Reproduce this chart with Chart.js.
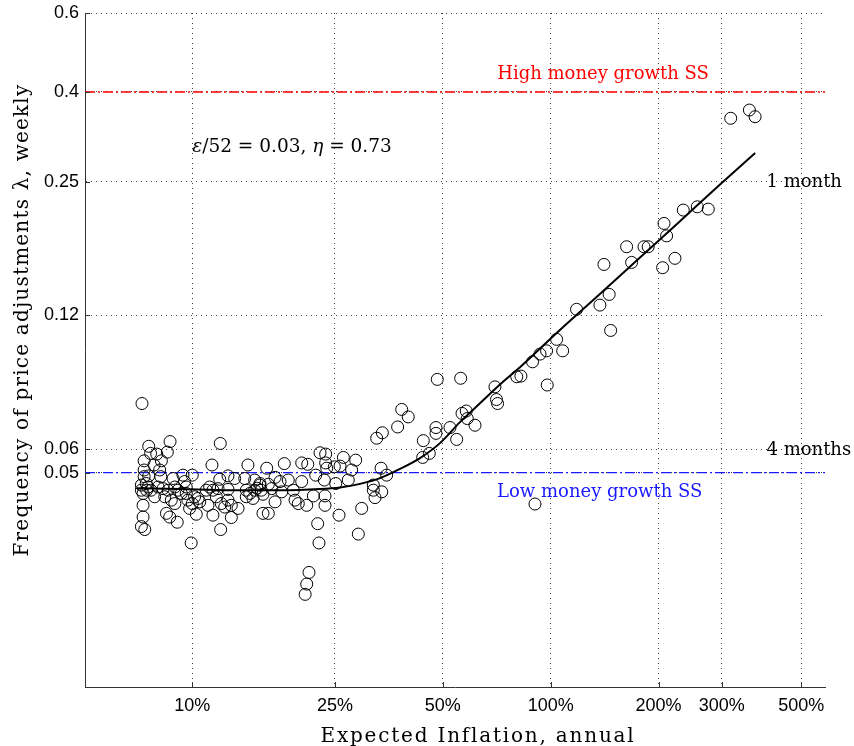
<!DOCTYPE html>
<html>
<head>
<meta charset="utf-8">
<script src="https://cdn.jsdelivr.net/npm/chart.js@4.4.1/dist/chart.umd.min.js"></script>
<style>
  html, body { margin: 0; padding: 0; background: #fff; }
  #wrap { width: 854px; height: 746px; }
</style>
</head>
<body>
<div id="wrap"><canvas id="chart" width="854" height="746"></canvas></div>
<script>
// Waarden (inflatie als fractie per jaar, frequentie per week)
const inflation = [
  0.0724, 0.0756, 0.0867, 0.1197, 0.0852, 0.0765, 0.0796, 0.0734, 0.0820, 0.0782,
  0.1135, 0.1430, 0.0734, 0.0811, 0.0756, 0.0817, 0.0884, 0.0942, 0.1000, 0.1193,
  0.1258, 0.1313, 0.1401, 0.1493, 0.0721, 0.0721, 0.0752, 0.0829, 0.0894, 0.0962,
  0.1118, 0.1180, 0.1258, 0.1415, 0.1493, 0.1558, 0.0729, 0.0785, 0.0838, 0.0874,
  0.0932, 0.0972, 0.1000, 0.1038, 0.1106, 0.1167, 0.1232, 0.1285, 0.1342, 0.1415,
  0.1477, 0.0729, 0.0847, 0.0865, 0.1026, 0.1142, 0.1285, 0.0729, 0.0908, 0.0721,
  0.0737, 0.1200, 0.0993, 0.1575, 0.0744, 0.0767, 0.0803, 0.0856, 0.0912, 0.0952,
  0.0962, 0.1015, 0.1049, 0.0983, 0.1094, 0.1142, 0.1205, 0.1258, 0.1447, 0.1543,
  0.0734, 0.0746, 0.0894, 0.3741, 0.3391, 0.3270, 0.2272, 0.2356, 0.2640, 0.2857,
  0.1613, 0.1806, 0.2020, 0.2100, 0.2356, 0.2372, 0.2491, 0.2584, 0.2784, 0.3363,
  0.3486, 0.1702, 0.2210, 0.2336, 0.2724, 0.1853, 0.2020, 0.2513, 0.3200, 0.1545,
  0.1630, 0.1757, 0.1515, 0.1575, 0.1666, 0.1776, 0.1914, 0.3200, 0.3378, 0.3235,
  0.2177, 0.2346, 0.1702, 0.1935, 0.1976, 0.2086, 0.2346, 0.1630, 0.2567, 0.2970,
  0.2238, 0.2906, 0.2257, 0.2117, 0.2086, 0.2065, 1.181, 1.039, 1.080, 0.974,
  0.934, 0.890, 0.978, 0.804, 0.826, 0.4826, 0.5609, 0.699, 0.706, 0.711,
  0.3840, 0.4005, 0.5813, 0.5657, 0.5852, 0.615, 0.4786, 0.4786, 0.5236, 0.5466,
  0.4412, 0.4585, 0.4395, 0.904, 3.179, 3.584, 3.718, 2.344, 2.565, 2.752,
  2.071, 2.106, 1.629, 1.821, 1.871, 1.682, 2.222, 2.053, 1.408, 1.456,
  1.372, 1.470
];
const frequency = [
  0.0736, 0.0585, 0.0600, 0.0594, 0.0567, 0.0563, 0.0561, 0.0541, 0.0541, 0.0529,
  0.0529, 0.0529, 0.0515, 0.0515, 0.0499, 0.0497, 0.0492, 0.0501, 0.0501, 0.0490,
  0.0499, 0.0492, 0.0492, 0.0488, 0.0475, 0.0462, 0.0470, 0.0466, 0.0470, 0.0470,
  0.0470, 0.0466, 0.0464, 0.0462, 0.0462, 0.0462, 0.0454, 0.0446, 0.0446, 0.0438,
  0.0454, 0.0438, 0.0430, 0.0442, 0.0426, 0.0446, 0.0422, 0.0426, 0.0419, 0.0446,
  0.0442, 0.0426, 0.0408, 0.0400, 0.0406, 0.0404, 0.0399, 0.0400, 0.0389, 0.0380,
  0.0374, 0.0374, 0.0348, 0.0408, 0.0479, 0.0462, 0.0470, 0.0462, 0.0462, 0.0484,
  0.0454, 0.0446, 0.0434, 0.0419, 0.0462, 0.0462, 0.0430, 0.0438, 0.0454, 0.0475,
  0.0497, 0.0462, 0.0430, 0.0649, 0.0629, 0.0611, 0.0565, 0.0561, 0.0551, 0.0543,
  0.0520, 0.0533, 0.0535, 0.0531, 0.0535, 0.0520, 0.0524, 0.0526, 0.0515, 0.0520,
  0.0501, 0.0495, 0.0501, 0.0488, 0.0488, 0.0488, 0.0484, 0.0479, 0.0475, 0.0479,
  0.0477, 0.0484, 0.0467, 0.0452, 0.0466, 0.0458, 0.0462, 0.0462, 0.0458, 0.0444,
  0.0448, 0.0448, 0.0434, 0.0438, 0.0430, 0.0426, 0.0426, 0.0408, 0.0404, 0.0419,
  0.0386, 0.0365, 0.0348, 0.0297, 0.0279, 0.0264, 0.1221, 0.1039, 0.0977, 0.0977,
  0.0960, 0.0921, 0.0813, 0.0850, 0.0853, 0.0838, 0.0843, 0.0805, 0.0752, 0.0736,
  0.0713, 0.0685, 0.0707, 0.0698, 0.0679, 0.0655, 0.0647, 0.0627, 0.0647, 0.0607,
  0.0603, 0.0563, 0.0551, 0.0429, 0.3408, 0.3562, 0.3437, 0.2081, 0.2118, 0.2092,
  0.1937, 0.1812, 0.1709, 0.1709, 0.1709, 0.1571, 0.1606, 0.1527, 0.1554, 0.1323,
  0.1249, 0.1090
];

// Modelcurve
const fitInflation = [0.0701, 0.0924, 0.1274, 0.1757, 0.2272, 0.2584, 0.2938, 0.3341, 0.3798, 0.4319,
  0.4911, 0.5584, 0.635, 0.722, 0.821, 0.934, 1.061, 1.372, 1.775, 2.295, 2.968, 3.72];
const fitFrequency = [0.0467, 0.0465, 0.0462, 0.0462, 0.0465, 0.0469, 0.0478, 0.0493, 0.0518, 0.0549,
  0.0595, 0.0666, 0.0737, 0.0815, 0.0895, 0.0989, 0.1092, 0.1325, 0.1613, 0.1961, 0.2388, 0.2827];

// Steady states (hoog / laag)
const highSS = 0.3925;
const lowSS = 0.0508;

// Assen
const xMin = 0.0502, xMax = 5.826;
const yMin = 0.01605, yMax = 0.6;
const xTicks = [0.1, 0.25, 0.5, 1, 2, 3, 5];
const xTickLabels = ['10%', '25%', '50%', '100%', '200%', '300%', '500%'];
const yTicks = [0.0508, 0.0575, 0.1182, 0.2423, 0.3925, 0.6];
const yTickLabels = ['0.05', '0.06', '0.12', '0.25', '0.4', '0.6'];

const SERIF = '"DejaVu Serif", serif';

function drawRuns(ctx, runs, x, y, size) {
  runs.forEach(([t, italic]) => {
    ctx.font = (italic ? 'italic ' : '') + size + 'px ' + SERIF;
    ctx.fillText(t, x, y);
    x += ctx.measureText(t).width;
  });
}

const decor = {
  id: 'decor',
  afterDraw(chart) {
    const { ctx, chartArea: a, scales: { x, y } } = chart;
    ctx.save();

    // ticks naar binnen
    ctx.strokeStyle = '#333';
    ctx.lineWidth = 1;
    ctx.beginPath();
    xTicks.forEach(v => {
      const px = Math.round(x.getPixelForValue(v)) + 0.5;
      ctx.moveTo(px, a.bottom);
      ctx.lineTo(px, a.bottom - 5);
    });
    yTicks.forEach(v => {
      const py = Math.round(y.getPixelForValue(v)) + 0.5;
      ctx.moveTo(a.left, py);
      ctx.lineTo(a.left + 5, py);
    });
    ctx.stroke();

    ctx.fillStyle = '#000';
    ctx.textBaseline = 'alphabetic';

    // astitels
    ctx.font = '20px ' + SERIF;
    ctx.letterSpacing = '1.8px';
    ctx.textAlign = 'center';
    ctx.fillText('Expected Inflation, annual', (a.left + a.right) / 2 + 23, 742);

    ctx.save();
    ctx.translate(28, 320);
    ctx.rotate(-Math.PI / 2);
    ctx.letterSpacing = '1.2px';
    ctx.fillText('Frequency of price adjustments \u03bb, weekly', 0, 0);
    ctx.restore();

    ctx.letterSpacing = '0px';
    ctx.font = '18px ' + SERIF;

    ctx.fillStyle = '#ff0000';
    ctx.fillText('High money growth SS', x.getPixelForValue(1.40), y.getPixelForValue(highSS) - 13);
    ctx.fillStyle = '#1a1aff';
    ctx.fillText('Low money growth SS', x.getPixelForValue(1.37), y.getPixelForValue(lowSS) + 24);

    ctx.fillStyle = '#000';
    ctx.textAlign = 'left';
    ctx.fillText('1 month', x.getPixelForValue(4.0), y.getPixelForValue(yTicks[3]) + 5);
    ctx.fillText('4 months', x.getPixelForValue(4.0), y.getPixelForValue(yTicks[1]) + 6);

    drawRuns(ctx, [['\u03b5', true], ['/52 = 0.03, ', false], ['\u03b7', true], [' = 0.73', false]],
      x.getPixelForValue(0.1), y.getPixelForValue(0.2847), 18.5);

    ctx.restore();
  }
};

const points = inflation.map((v, i) => ({ x: v, y: frequency[i] }));
const fit = fitInflation.map((v, i) => ({ x: v, y: fitFrequency[i] }));

const tickFont = { family: '"Liberation Sans", Arial, sans-serif', size: 18 };

// geen extra ruimte voor labels aan de uiteinden van de assen
const noEdgePadding = s => {
  s.paddingTop = 0; s.paddingBottom = 0; s.paddingLeft = 0; s.paddingRight = 0;
};

new Chart(document.getElementById('chart'), {
  type: 'scatter',
  data: {
    datasets: [
      {
        label: 'model',
        type: 'line',
        data: fit,
        borderColor: '#000',
        borderWidth: 2,
        pointRadius: 0,
        cubicInterpolationMode: 'monotone',
        order: 0
      },
      {
        label: 'data',
        data: points,
        pointRadius: 6,
        borderWidth: 1,
        borderColor: '#000',
        backgroundColor: 'rgba(0,0,0,0)',
        order: 1
      },
      {
        label: 'high SS',
        type: 'line',
        data: [{ x: xMin, y: highSS }, { x: xMax, y: highSS }],
        borderColor: '#ff0000',
        borderWidth: 1.3,
        borderDash: [10, 3, 2, 3],
        pointRadius: 0,
        order: 2
      },
      {
        label: 'low SS',
        type: 'line',
        data: [{ x: xMin, y: lowSS }, { x: xMax, y: lowSS }],
        borderColor: '#1a1aff',
        borderWidth: 1.3,
        borderDash: [10, 3, 2, 3],
        pointRadius: 0,
        order: 2
      }
    ]
  },
  options: {
    responsive: false,
    animation: false,
    events: [],
    layout: { padding: { top: 13, right: 29, left: 0, bottom: 0 } },
    plugins: { legend: { display: false }, tooltip: { enabled: false } },
    scales: {
      x: {
        type: 'logarithmic',
        min: xMin,
        max: xMax,
        afterBuildTicks: s => { s.ticks = xTicks.map(v => ({ value: v })); },
        afterFit: s => { s.height = 59; noEdgePadding(s); },
        ticks: {
          callback: (v, i) => xTickLabels[i],
          font: tickFont,
          color: '#000',
          padding: 8,
          maxRotation: 0,
          autoSkip: false
        },
        grid: { color: 'rgba(0,0,0,0.75)', lineWidth: 1, drawTicks: false },
        border: { display: true, color: '#333', width: 1, dash: [1, 4] }
      },
      y: {
        type: 'logarithmic',
        min: yMin,
        max: yMax,
        afterBuildTicks: s => { s.ticks = yTicks.map(v => ({ value: v })); },
        afterFit: s => { s.width = 85; noEdgePadding(s); },
        ticks: {
          callback: (v, i) => yTickLabels[i],
          font: tickFont,
          color: '#000',
          padding: 6,
          autoSkip: false
        },
        grid: { color: 'rgba(0,0,0,0.75)', lineWidth: 1, drawTicks: false },
        border: { display: true, color: '#333', width: 1, dash: [1, 4] }
      }
    }
  },
  plugins: [decor]
});
</script>
</body>
</html>
